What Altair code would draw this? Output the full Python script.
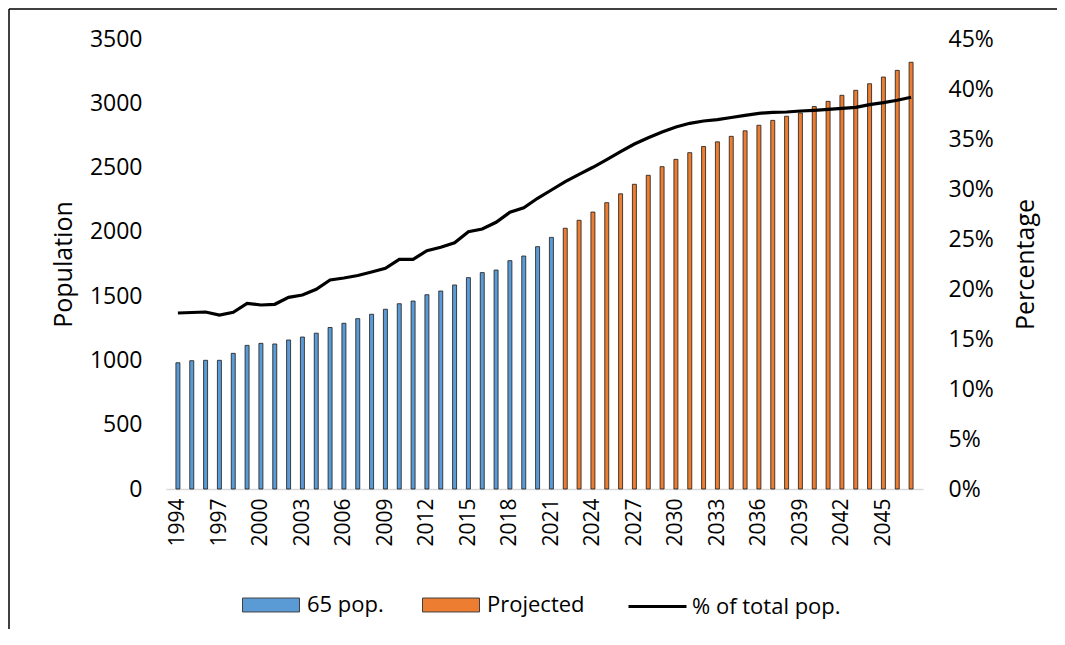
import altair as alt
import pandas as pd

# ---- data ----
pop65_years = list(range(1994, 2022))
pop65 = [982, 998, 1001, 1001, 1055, 1117, 1133, 1128, 1159, 1182, 1212, 1256,
         1289, 1325, 1359, 1398, 1441, 1462, 1511, 1540, 1587, 1644, 1683, 1703,
         1776, 1812, 1885, 1957]
proj_years = list(range(2022, 2048))
projected = [2028, 2090, 2154, 2227, 2296, 2370, 2440, 2507, 2564, 2616, 2664,
             2700, 2743, 2786, 2829, 2867, 2899, 2925, 2975, 3015, 3062, 3101,
             3152, 3204, 3256, 3319]
pct_years = list(range(1994, 2048))
pct = [17.6, 17.65, 17.7, 17.4, 17.67, 18.57, 18.4, 18.47, 19.17, 19.4, 19.97,
       20.9, 21.1, 21.35, 21.7, 22.07, 22.97, 22.97, 23.83, 24.17, 24.63, 25.73,
       26.0, 26.67, 27.67, 28.13, 29.07, 29.9, 30.73, 31.47, 32.17, 32.93, 33.73,
       34.5, 35.13, 35.7, 36.2, 36.57, 36.8, 36.93, 37.15, 37.37, 37.57, 37.67,
       37.7, 37.8, 37.87, 37.97, 38.07, 38.17, 38.43, 38.63, 38.87, 39.17]

series_names = ["65 pop.", "Projected"]
line_name = "% of total pop."
x_ticks = list(range(1994, 2046, 3))
left_ticks = [0, 500, 1000, 1500, 2000, 2500, 3000, 3500]
right_ticks = [0, 0.05, 0.10, 0.15, 0.20, 0.25, 0.30, 0.35, 0.40, 0.45]

bars_df = pd.DataFrame({
    "year": pop65_years + proj_years,
    "value": pop65 + projected,
    "series": [series_names[0]] * len(pop65) + [series_names[1]] * len(projected),
})
line_df = pd.DataFrame({
    "year": pct_years,
    "pct": [p / 100 for p in pct],
    "series": [line_name] * len(pct),
})
border_df = pd.DataFrame({"k": [0]})

FONT = "Open Sans"
W, H = 757, 450

x_enc = alt.X(
    "year:Q",
    scale=alt.Scale(domain=[1993.5, 2047.5], nice=False, zero=False),
    axis=alt.Axis(values=x_ticks, format="d", labelAngle=270, labelAlign="right",
                  labelBaseline="middle", labelPadding=9, ticks=False,
                  domainColor="#d9d9d9", domainWidth=1.5, grid=False, title=None,
                  labelFontSize=21, labelFlush=False, labelOverlap=False),
)

bars = alt.Chart(bars_df).mark_bar(size=4, stroke="#1a1a1a", strokeWidth=0.8).encode(
    x=x_enc,
    y=alt.Y("value:Q",
            scale=alt.Scale(domain=[0, 3500], nice=False),
            axis=alt.Axis(values=left_ticks, format="d", title="Population", titleX=-103,
                          titleY=H / 2, titleAngle=270, titleAlign="center",
                          titleBaseline="middle", titleFontSize=25,
                          labelFontSize=23, labelPadding=24, ticks=False,
                          domain=False, grid=False)),
    color=alt.Color("series:N",
                    scale=alt.Scale(domain=series_names, range=["#5B9BD5", "#ED7D31"]),
                    legend=alt.Legend(title=None, orient="none", legendX=76, legendY=537,
                                      direction="horizontal",
                                      symbolType="M-1,-0.245H1V0.245H-1Z",
                                      symbolSize=3249, symbolStrokeColor="#404040",
                                      symbolStrokeWidth=1, labelFontSize=22,
                                      columnPadding=36, labelOffset=7, padding=0)),
)

line = alt.Chart(line_df).mark_line(strokeWidth=3.2).encode(
    x=x_enc,
    y=alt.Y("pct:Q",
            scale=alt.Scale(domain=[0, 0.45], nice=False),
            axis=alt.Axis(orient="right", values=right_ticks, format=".0%",
                          title="Percentage", titleX=102, titleY=H / 2,
                          titleAngle=270, titleAlign="center", titleBaseline="middle",
                          titleFontSize=25, labelFontSize=23, labelPadding=25,
                          ticks=False, domain=False, grid=False)),
    stroke=alt.Stroke("series:N",
                      scale=alt.Scale(domain=[line_name], range=["#000000"]),
                      legend=alt.Legend(title=None, orient="none", legendX=461, legendY=537,
                                        symbolType="stroke", symbolSize=3364,
                                        symbolStrokeWidth=3, labelFontSize=22,
                                        labelOffset=4, padding=0)),
)

# chart-area frame (top and left edges; the right and bottom lie outside the window)
frame_top = alt.Chart(border_df).mark_rule(color="#000000", strokeWidth=1.5).encode(
    x=alt.value(-157), x2=alt.value(1300), y=alt.value(-30)
)
frame_left = alt.Chart(border_df).mark_rule(color="#000000", strokeWidth=1.5).encode(
    x=alt.value(-157), y=alt.value(-30), y2=alt.value(800)
)

chart = alt.layer(frame_top, frame_left, bars, line).resolve_scale(y="independent").properties(
    width=W, height=H,
    autosize=alt.AutoSizeParams(type="none"),
    padding={"left": 158, "top": 31, "right": 134, "bottom": 140},
).configure_view(strokeWidth=0).configure_axis(
    labelFont=FONT, titleFont=FONT, labelColor="#000000", titleColor="#000000",
    titleFontWeight="normal",
).configure_legend(labelFont=FONT, labelColor="#000000")

chart.save("out.html", embed_options={"renderer": "svg", "actions": False})
